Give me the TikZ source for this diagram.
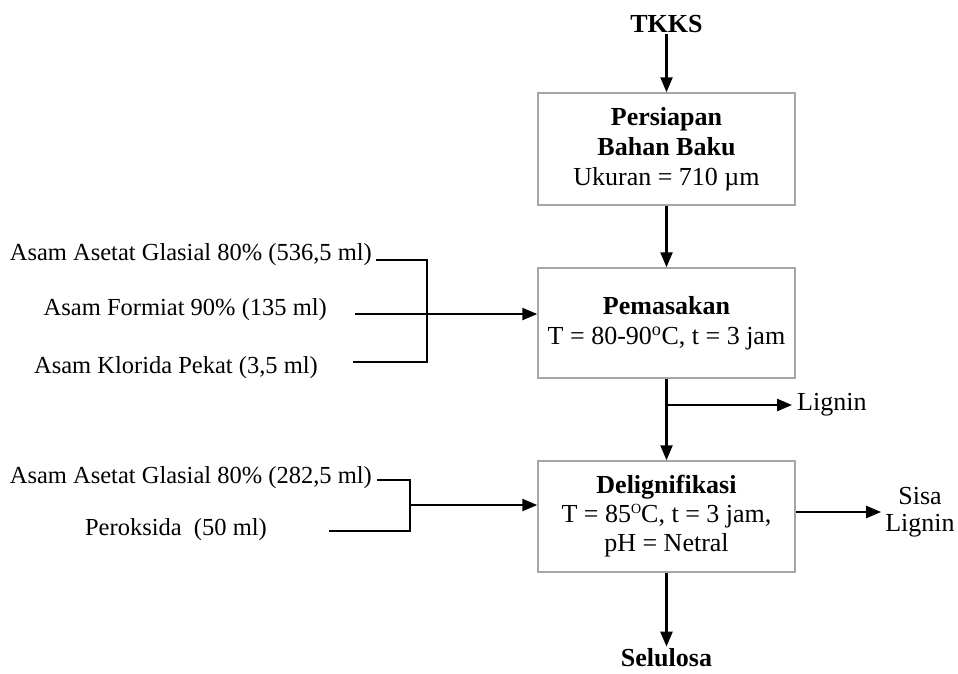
\documentclass[tikz,border=0pt]{standalone}
\usepackage{fontspec}
\setmainfont{Liberation Serif}
\usetikzlibrary{arrows.meta}

\tikzset{
    prosesbox/.style={draw=gray!70, line width=1.5pt, align=center,
        minimum width=257pt, inner sep=2pt, font=\fontsize{26}{30}\selectfont},
    alur/.style={line width=2.4pt, -{Triangle[length=15pt,width=12pt]}},
    garis/.style={line width=2.4pt},
    teks/.style={inner sep=0pt},
    hasil/.style={font=\fontsize{26}{30}\selectfont},
    hasiltebal/.style={font=\fontsize{26}{30}\selectfont\bfseries}
}
\newcommand{\derajat}{\raisebox{0.75ex}{\fontsize{14}{14}\selectfont O}}

\begin{document}
\begin{tikzpicture}[x=1pt, y=-1pt, font=\fontsize{24.5}{30}\selectfont]
        \useasboundingbox (0,0) rectangle (958,673);

        % bahan awal dan kotak proses
        \node[hasiltebal, inner sep=1pt] (tkks) at (666.5,24) {TKKS};
        \node[prosesbox, minimum height=112pt] (persiapan) at (666.5,149)
            {\textbf{Persiapan}\\\textbf{Bahan Baku}\\Ukuran = 710 µm};
        \node[prosesbox, minimum height=110pt] (pemasakan) at (666.5,323)
            {\textbf{Pemasakan}\\T = 80-90\textsuperscript{o}C, t = 3 jam};
        \node[prosesbox, minimum height=111pt] (delig) at (666.5,516.5)
            {\textbf{Delignifikasi}\\[-1pt]T = 85\derajat C, t = 3 jam,\\[-1pt]pH = Netral};

        \draw[alur] (tkks.south) -- (persiapan.north);
        \draw[alur] (persiapan.south) -- (pemasakan.north);
        \draw[alur] (pemasakan.south) -- (delig.north);

        % bahan kimia pemasakan
        \node[teks, anchor=east] (asetatA) at (372,255) {Asam Asetat Glasial 80\% (536,5 ml)};
        \node[teks, anchor=east] (formiat) at (327,310) {Asam Formiat 90\% (135 ml)};
        \node[teks, anchor=east] (klorida) at (318,368) {Asam Klorida Pekat (3,5 ml)};
        \coordinate (sA) at (376,260);
        \coordinate (sF) at (355,314);
        \coordinate (sK) at (353,362);
        \coordinate (kA) at (427,260);
        \coordinate (kK) at (427,362);
        \draw[garis] (sA) -- (kA) -- (kK) -- (sK);
        \draw[alur] (sF) -- (sF -| pemasakan.west);

        % lignin keluar
        \coordinate (cabang) at (666.5,405);
        \node[hasil, anchor=west, inner sep=5pt] (lignin) at (792,405) {Lignin};
        \draw[alur] (cabang) -- (lignin.west);

        % bahan kimia delignifikasi
        \node[teks, anchor=east] (asetatB) at (372,478) {Asam Asetat Glasial 80\% (282,5 ml)};
        \node[teks, anchor=east] (peroksida) at (267,530) {Peroksida\ \ (50 ml)};
        \coordinate (sB) at (377,480);
        \coordinate (sP) at (329,531);
        \coordinate (kB) at (410,480);
        \coordinate (kP) at (410,531);
        \coordinate (kT) at (410,505);
        \draw[garis] (sB) -- (kB) -- (kP) -- (sP);
        \draw[alur] (kT) -- (kT -| delig.west);

        % hasil
        \node[hasil, align=center, inner sep=4pt] (sisa) at (920,512) {Sisa\\[-3pt]Lignin};
        \draw[alur] (delig.east |- sisa.west) -- (sisa.west);
        \node[hasiltebal, inner sep=2pt] (selulosa) at (666.5,658) {Selulosa};
        \draw[alur] (delig.south) -- (selulosa.north);
    \end{tikzpicture}
\end{document}
